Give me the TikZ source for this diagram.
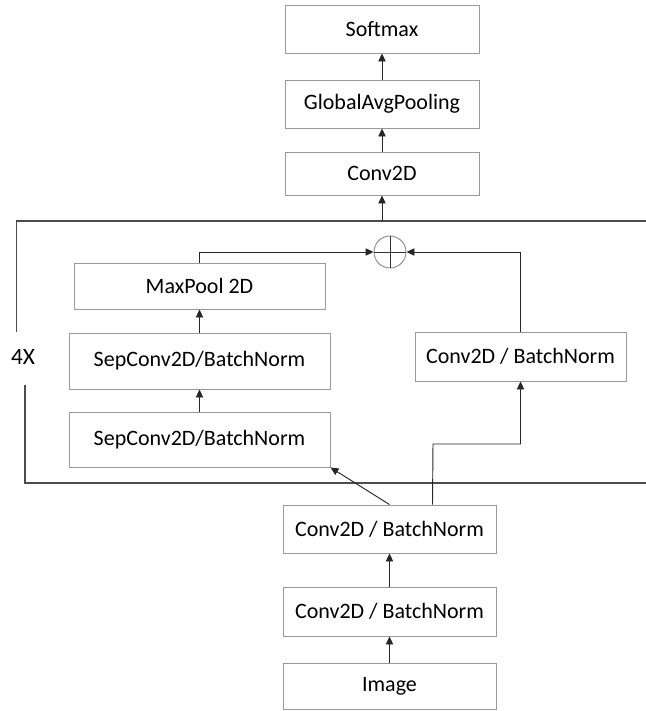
\documentclass[tikz,border=0pt]{standalone}
\usepackage{fontspec}
\setmainfont{Carlito}
\usetikzlibrary{arrows.meta}
\tikzset{
  >={Triangle[length=6pt,width=5.5pt]},
  blk/.style={draw=black!40, line width=0.7pt, inner sep=0pt, align=center,
    font=\fontsize{16.5}{19}\selectfont},
  frm/.style={draw=black!70, line width=0.8pt},
  arr/.style={->, draw=black!85, line width=0.7pt}
}
\begin{document}
\begin{tikzpicture}[x=0.75pt,y=-0.75pt]
      \useasboundingbox (0,0) rectangle (646,711);
      % output head
      \node[blk, minimum width=145.5pt, minimum height=36pt] (sm) at (382,29) {Softmax};
      \node[blk, minimum width=145.5pt, minimum height=36pt] (gap) at (382,104) {GlobalAvgPooling};
      \node[blk, minimum width=145.5pt, minimum height=32.25pt] (conv) at (382,173.5) {Conv2D};
      % repeated block
      \node[blk, minimum width=188.25pt, minimum height=34.5pt] (mp) at (199.5,286) {MaxPool 2D};
      \node[blk, minimum width=195.75pt, minimum height=42pt] (sep2) at (199.5,361) {SepConv2D/BatchNorm};
      \node[blk, minimum width=195.75pt, minimum height=41.25pt] (sep1) at (199.5,439.5) {SepConv2D/BatchNorm};
      \node[blk, minimum width=158.25pt, minimum height=36.75pt] (res) at (520.5,356.5) {Conv2D / BatchNorm};
      \node[circle, draw=black!45, line width=0.7pt, minimum size=24pt, inner sep=0pt] (add) at (390,252) {};
      \draw[black!80, line width=0.7pt] (add.north) -- (add.south) (add.west) -- (add.east);
      % stem
      \node[blk, minimum width=159.75pt, minimum height=36pt] (cb2) at (389.5,529) {Conv2D / BatchNorm};
      \node[blk, minimum width=159.75pt, minimum height=36.75pt] (cb1) at (389.5,611.5) {Conv2D / BatchNorm};
      \node[blk, minimum width=159.75pt, minimum height=34.5pt] (img) at (389.5,686) {Image};

      % frame round the repeated block
      \coordinate (ftr) at (646,221); \coordinate (ftl) at (16.5,221);
      \coordinate (fml) at (16.5,332); \coordinate (fbl) at (25,385);
      \coordinate (fcl) at (25,483); \coordinate (fbr) at (646,483);
      \coordinate (fout) at (382,221); \coordinate (bend) at (433,444);
      \draw[frm] (ftr) -- (ftl) -- (fml);
      \draw[frm] (fbl) -- (fcl) -- (fbr);
      \node[font=\fontsize{17.5}{20}\selectfont] (rep) at (23,357) {4X};

      \path (img) edge[arr] (cb1) (cb1) edge[arr] (cb2);
      \draw[arr] (cb2.north) -- (sep1.south east);
      \draw[arr] ([xshift=32.25pt]cb2.north) -- (bend) -| (res.south);
      \path (sep1) edge[arr] (sep2) (sep2) edge[arr] (mp);
      \draw[arr] (mp.north) |- (add.west);
      \draw[arr] (res.north) |- (add.east);
      \draw[arr] (fout) -- (conv.south);
      \path (conv) edge[arr] (gap) (gap) edge[arr] (sm);
\end{tikzpicture}
\end{document}
